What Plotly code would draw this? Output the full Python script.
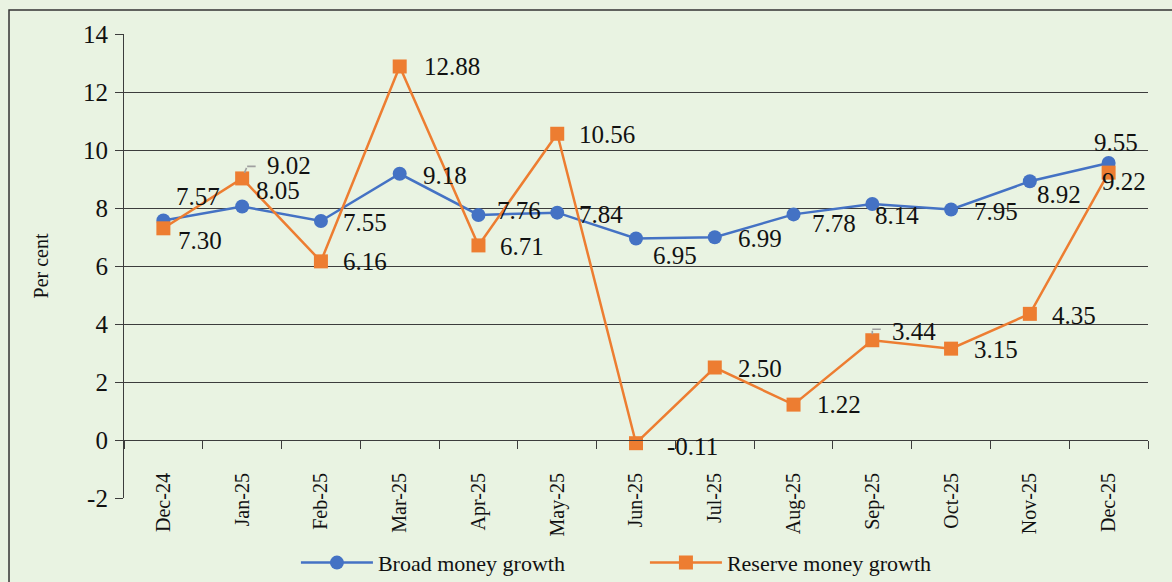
import plotly.graph_objects as go

# ---- data ----
months = ["Dec-24", "Jan-25", "Feb-25", "Mar-25", "Apr-25", "May-25", "Jun-25",
          "Jul-25", "Aug-25", "Sep-25", "Oct-25", "Nov-25", "Dec-25"]
broad_money = [7.57, 8.05, 7.55, 9.18, 7.76, 7.84, 6.95, 6.99, 7.78, 8.14, 7.95, 8.92, 9.55]
reserve_money = [7.30, 9.02, 6.16, 12.88, 6.71, 10.56, -0.11, 2.50, 1.22, 3.44, 3.15, 4.35, 9.22]
y_ticks = [-2, 0, 2, 4, 6, 8, 10, 12, 14]
y_tick_labels = ["-2", "0", "2", "4", "6", "8", "10", "12", "14"]

# ---- label placement styles (pixel offsets from each point) ----
broad_anchor = ["left"] * 12 + ["center"]
broad_dx = [11, 12, 20, 21, 17, 20, 15, 21, 16, 1, 21, 5, 7]
broad_dy = [24, 16, -1, -2, 4, -2, -17, -1, -9, -12, -2, -13, 21]
reserve_anchor = ["left"] * 12 + ["center"]
reserve_dx = [13, 23, 20, 22, 20, 20, 29, 21, 21, 18, 21, 20, 15]
reserve_dy = [-12, 13, 0, 0, -1, -1, -3, -1, 0, 9, -1, -2, -9]
# grey leader lines (reserve series): index, corner offset (px), horizontal length (px)
leader_idx = [1, 9]
leader_cx = [5, 0]
leader_cy = [12, 11]
leader_len = [10, 10]

BLUE = "#4472C4"
ORANGE = "#ED7D31"
BG = "#E9F3E2"
GRID = "#3c3c3c"
BASE = "#8a8a8a"
LEADER = "#a0a0a0"
FONT = "Liberation Serif"
TXT = "#111111"

fig = go.Figure()
fig.add_trace(go.Scatter(
    x=months, y=broad_money, name="Broad money growth", mode="lines+markers",
    line=dict(color=BLUE, width=2.5),
    marker=dict(symbol="circle", size=14, color=BLUE),
))
fig.add_trace(go.Scatter(
    x=months, y=reserve_money, name="Reserve money growth", mode="lines+markers",
    line=dict(color=ORANGE, width=2.5),
    marker=dict(symbol="square", size=14, color=ORANGE),
))

annotations = []
for i, (m, v) in enumerate(zip(months, broad_money)):
    annotations.append(dict(
        x=m, y=v, xref="x", yref="y", text=f"{v:.2f}", showarrow=False,
        xanchor=broad_anchor[i], yanchor="middle",
        xshift=broad_dx[i], yshift=broad_dy[i],
        font=dict(family=FONT, size=25, color=TXT),
    ))
for i, (m, v) in enumerate(zip(months, reserve_money)):
    annotations.append(dict(
        x=m, y=v, xref="x", yref="y", text=f"{v:.2f}", showarrow=False,
        xanchor=reserve_anchor[i], yanchor="middle",
        xshift=reserve_dx[i], yshift=reserve_dy[i],
        font=dict(family=FONT, size=25, color=TXT),
    ))
for k, i in enumerate(leader_idx):
    annotations.append(dict(
        x=months[i], y=reserve_money[i], xref="x", yref="y", text="",
        showarrow=True, arrowhead=0, arrowwidth=1.6, arrowcolor=LEADER,
        ax=leader_cx[k], ay=-leader_cy[k], standoff=6,
    ))
    annotations.append(dict(
        x=months[i], y=reserve_money[i], xref="x", yref="y", text="",
        xshift=leader_cx[k], yshift=leader_cy[k],
        showarrow=True, arrowhead=0, arrowwidth=1.6, arrowcolor=LEADER,
        ax=leader_len[k], ay=0, standoff=0,
    ))

fig.update_layout(
    width=1172, height=582,
    margin=dict(l=124, r=24, t=34, b=84, autoexpand=False),
    paper_bgcolor=BG, plot_bgcolor=BG,
    font=dict(family=FONT, color=TXT),
    showlegend=True,
    legend=dict(
        orientation="h", xref="container", yref="container",
        x=0.2525, xanchor="left", y=0.033, yanchor="middle",
        font=dict(family=FONT, size=22, color=TXT), bgcolor="rgba(0,0,0,0)",
        entrywidth=262, itemwidth=72,
    ),
    xaxis=dict(
        type="category", range=[-0.5, len(months) - 0.5],
        anchor="free", position=0.125, automargin=False,
        showline=True, linecolor=GRID, linewidth=1.2,
        ticks="outside", ticklen=8, tickcolor=GRID, tickwidth=1.2,
        tickson="boundaries", tickangle=-90, ticklabelstandoff=24,
        tickfont=dict(family=FONT, size=20, color=TXT),
        showgrid=False, zeroline=False,
    ),
    # lighter base line along the bottom of the plot area (y = -2)
    xaxis2=dict(
        overlaying="x", anchor="y", side="bottom", automargin=False,
        range=[0, 1], showline=True, linecolor=BASE, linewidth=1.6,
        showticklabels=False, ticks="", showgrid=False, zeroline=False,
    ),
    yaxis=dict(
        range=[-2, 14], tickvals=y_ticks, ticktext=y_tick_labels, automargin=False,
        showline=True, linecolor=GRID, linewidth=1.2,
        ticks="outside", ticklen=8, tickcolor=GRID, tickwidth=1.2,
        ticklabelstandoff=2,
        tickfont=dict(family=FONT, size=25, color=TXT),
        showgrid=True, gridcolor=GRID, gridwidth=1, zeroline=False,
        title=dict(text="Per cent", font=dict(family=FONT, size=20, color=TXT), standoff=28),
    ),
    annotations=annotations,
    # outer frame: only its left and top edges are inside the picture
    shapes=[dict(
        type="path", xref="paper", yref="paper",
        path="M -0.1123,-0.8 L -0.1123,1.0517 L 2.0,1.0517",
        line=dict(color="#333333", width=1.5), layer="below",
    )],
)

fig.write_html("out.html", config={"displayModeBar": False},
               post_script="document.body.style.margin='0px';")
